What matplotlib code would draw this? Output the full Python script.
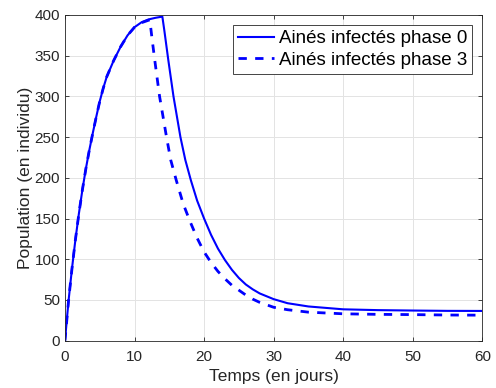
import matplotlib
matplotlib.use("Agg")
import matplotlib.pyplot as plt

# courbe phase 0 (trait plein)
t_phase0 = [0, 0.5, 1, 1.5, 2, 2.5, 3, 3.5, 4, 4.5, 5, 5.5, 6, 7, 8, 9, 10, 11, 12, 13, 14,
            14.3, 14.85, 15.6, 16.6, 17.3, 18.1, 19, 20, 21, 22, 23, 24, 25, 26, 27, 28,
            30, 32, 35, 40, 45, 50, 55, 60]
y_phase0 = [0, 48, 88, 124, 156, 185, 211, 234, 255, 275, 294, 310, 324, 344, 361, 375, 385, 391, 394.5, 396.5, 398,
            380, 345, 300, 250, 222, 197, 172, 150, 130, 113, 99, 87, 77, 69, 63, 58,
            51, 46, 42, 38.5, 37.5, 37, 36.6, 36.5]

# courbe phase 3 (pointillés)
t_phase3 = [0, 0.5, 1, 1.5, 2, 2.5, 3, 3.5, 4, 4.5, 5, 5.5, 6, 7, 8, 9, 10, 11, 12, 12.2,
            12.5, 12.9, 13.6, 14.6, 15.2, 16, 17, 18, 19, 20, 21, 22, 23, 24, 25, 26, 27, 28,
            30, 32, 35, 40, 45, 50, 55, 60]
y_phase3 = [0, 48, 88, 124, 156, 185, 211, 234, 255, 275, 294, 310, 324, 344, 361, 375, 385, 390.5, 393.5, 394,
            372, 345, 300, 250, 222, 197, 168, 146, 126, 109, 96, 85, 76, 68, 62, 56, 51, 47,
            41, 38, 35, 33, 32.3, 32, 31.5, 31.3]

label0 = "Ainés infectés phase 0"
label3 = "Ainés infectés phase 3"

plt.rcParams['font.family'] = ['Liberation Sans', 'DejaVu Sans']
ink = '#262626'

fig = plt.figure(figsize=(4.96, 3.88), dpi=100)
ax = fig.add_axes([0.131, 0.122, 0.8414, 0.8394])

ax.plot(t_phase0, y_phase0, color='#0000ff', linewidth=1.5, label=label0)
ax.plot(t_phase3, y_phase3, color='#0000ff', linewidth=2.0, linestyle=(0, (3.0, 3.0)), label=label3)

ax.set_xlim(0, 60)
ax.set_ylim(0, 400)
ax.set_xticks(range(0, 61, 10))
ax.set_yticks(range(0, 401, 50))
ax.grid(True, color='#e3e3e3', linewidth=0.7)
ax.set_axisbelow(True)
ax.tick_params(direction='in', length=3, width=0.6, colors=ink, labelsize=11,
               top=True, right=True)
ax.tick_params(axis='x', pad=6.5)
ax.tick_params(axis='y', pad=3.5)
for s in ax.spines.values():
    s.set_color(ink)
    s.set_linewidth(0.6)

ax.set_xlabel("Temps (en jours)", fontsize=12.5, color=ink, labelpad=4)
ax.set_ylabel("Population (en individu)", fontsize=12.5, color=ink, labelpad=1)

leg = ax.legend(loc='upper right', fontsize=13.5, fancybox=False, framealpha=1,
                edgecolor=ink, handlelength=1.95, handletextpad=0.25,
                borderaxespad=0.55, borderpad=0.25, labelspacing=0.25)
leg.get_frame().set_linewidth(0.6)
for txt in leg.get_texts():
    txt.set_color('black')

fig.savefig("out.png", dpi=100)
